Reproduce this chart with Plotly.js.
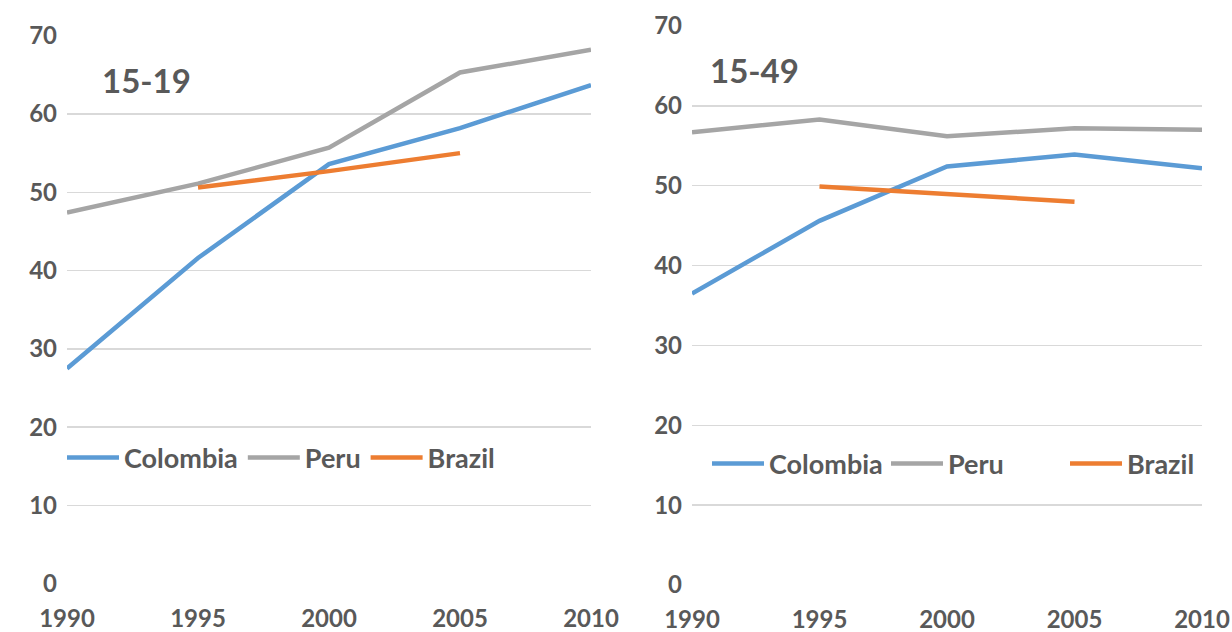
<!DOCTYPE html>
<html><head><meta charset="utf-8">
<script src="https://cdn.plot.ly/plotly-3.0.1.min.js"></script>
<style>html,body{margin:0;padding:0;background:#fff}#c{width:1232px;height:632px}</style>
</head><body><div id="c"></div>
<script>
const years = [1990, 1995, 2000, 2005, 2010];
const brazilYears = [1995, 2000, 2005];
const colombia1519 = [27.5, 41.6, 53.6, 58.2, 63.7];
const peru1519 = [47.4, 51.1, 55.7, 65.3, 68.2];
const brazil1519 = [50.6, 52.7, 55.0];
const colombia1549 = [36.5, 45.6, 52.4, 53.9, 52.2];
const peru1549 = [56.7, 58.3, 56.2, 57.2, 57.0];
const brazil1549 = [49.9, 49.0, 48.0];
const panelTitles = ["15-19", "15-49"];
const yTicks = [0, 10, 20, 30, 40, 50, 60, 70];

const BLUE = '#5B9BD5', GRAY = '#A5A5A5', ORANGE = '#ED7D31', TXT = '#595959';
const FONT = 'Lato, "Open Sans", sans-serif';
function tr(x, y, name, color, xa, ya, leg) {
  return {x: x, y: y, name: name, type: 'scatter', mode: 'lines',
    line: {color: color, width: 4.5}, xaxis: xa, yaxis: ya, legend: leg, hoverinfo: 'skip'};
}
const data = [
  tr(years, colombia1519, 'Colombia', BLUE, 'x', 'y', 'legend'),
  tr(years, peru1519, 'Peru', GRAY, 'x', 'y', 'legend'),
  tr(brazilYears, brazil1519, 'Brazil', ORANGE, 'x', 'y', 'legend'),
  tr(years, colombia1549, 'Colombia', BLUE, 'x2', 'y2', 'legend2'),
  tr(years, peru1549, 'Peru', GRAY, 'x2', 'y2', 'legend2'),
  tr(brazilYears, brazil1549, 'Brazil', ORANGE, 'x2', 'y2', 'legend2')
];
const W = 1232, H = 632;
function xax(d0, d1, anchor) {
  return {domain: [d0 / W, d1 / W], range: [1990, 2010], anchor: anchor,
    tickvals: years, ticktext: years.map(String), showgrid: false, zeroline: false,
    showline: false, ticks: '', ticklabelstandoff: 18,
    tickfont: {family: FONT, size: 24, color: TXT, weight: 'bold'}};
}
function yax(top, bot, anchor) {
  return {domain: [1 - bot / H, 1 - top / H], range: [0, 70], anchor: anchor,
    tickvals: yTicks, ticktext: yTicks.map(String), showgrid: true,
    gridcolor: '#D9D9D9', gridwidth: 1.5, zeroline: false, showline: false,
    ticks: '', ticklabelstandoff: 9,
    tickfont: {family: FONT, size: 24, color: TXT, weight: 'bold'}};
}
function leg(x, y, ew) {
  const o = {orientation: 'h', x: x / W, y: 1 - y / H, xanchor: 'left', yanchor: 'middle',
    bgcolor: 'rgba(0,0,0,0)', font: {family: FONT, size: 27, color: TXT, weight: 'bold'},
    itemwidth: 52, tracegroupgap: 0};
  if (ew) { o.entrywidth = ew; o.entrywidthmode = 'pixels'; }
  return o;
}
const layout = {
  width: W, height: H, margin: {l: 0, r: 0, t: 0, b: 0, autoexpand: false},
  paper_bgcolor: '#fff', plot_bgcolor: '#fff', showlegend: true,
  xaxis: xax(67, 591, 'y'), yaxis: yax(35.7, 583.7, 'x'),
  xaxis2: xax(692, 1202, 'y2'), yaxis2: yax(26, 585, 'x2'),
  legend: leg(62, 458), legend2: leg(707, 464, 112),
  annotations: [
    {text: panelTitles[0], xref: 'paper', yref: 'paper', x: 100 / W, y: 1 - 80 / H,
     xanchor: 'left', yanchor: 'middle', showarrow: false,
     font: {family: FONT, size: 33, color: TXT, weight: 'bold'}},
    {text: panelTitles[1], xref: 'paper', yref: 'paper', x: 708 / W, y: 1 - 70 / H,
     xanchor: 'left', yanchor: 'middle', showarrow: false,
     font: {family: FONT, size: 33, color: TXT, weight: 'bold'}}
  ]
};
Plotly.newPlot('c', data, layout, {displayModeBar: false, staticPlot: true});
</script></body></html>
